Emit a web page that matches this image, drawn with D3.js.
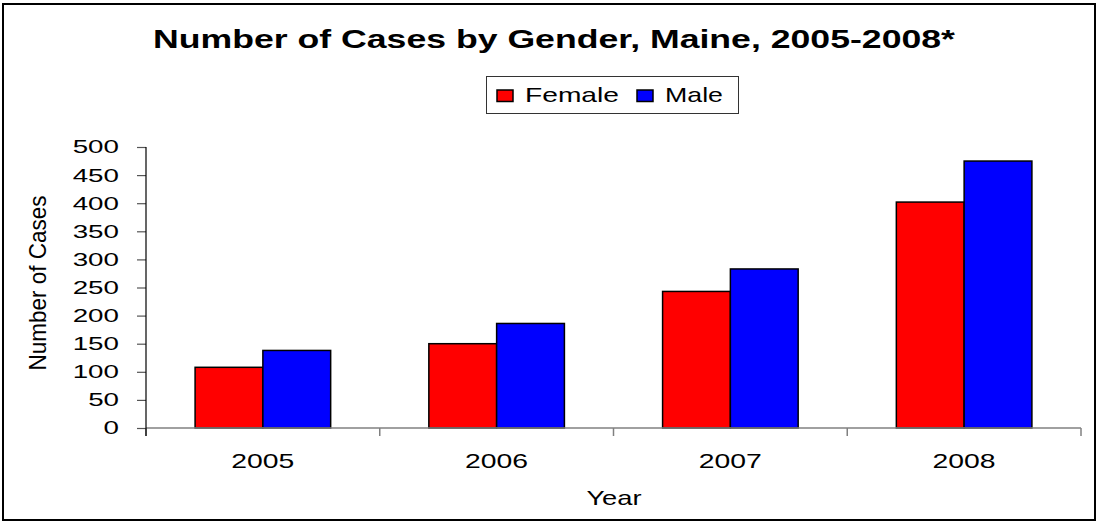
<!DOCTYPE html>
<html>
<head>
<meta charset="utf-8">
<script src="https://cdn.jsdelivr.net/npm/d3@7"></script>
<style>
  body { margin: 0; background: #fff; }
  svg { display: block; }
  text { font-family: Arial, "Liberation Sans", sans-serif; fill: #000; }
</style>
</head>
<body>
<div id="chart"></div>
<script>
"use strict";

// Chart data
const years = ["2005", "2006", "2007", "2008"];
const seriesNames = ["Female", "Male"];
const seriesColors = ["#ff0000", "#0000ff"];
const femaleCases = [108, 150, 243, 402];
const maleCases = [138, 186, 283, 475];
const yTicks = [0, 50, 100, 150, 200, 250, 300, 350, 400, 450, 500];

const width = 1098, height = 524;
const margin = { top: 147, right: 17, bottom: 96, left: 146 };
const xStretch = 1.4; // the reference text is stretched sideways

const svg = d3.select("#chart").append("svg")
    .attr("width", width)
    .attr("height", height);

// Stretch a text element sideways so it matches the reference
function Widen(sel, factor) {
    sel.each(function () {
        const w = this.getComputedTextLength();
        d3.select(this)
            .attr("textLength", w * factor)
            .attr("lengthAdjust", "spacingAndGlyphs");
    });
}

// Outer frame
svg.append("rect")
    .attr("x", 3).attr("y", 4)
    .attr("width", width - 6).attr("height", height - 8)
    .attr("fill", "none")
    .attr("stroke", "#000")
    .attr("stroke-width", 2);

// Title
svg.append("text")
    .attr("x", 554).attr("y", 48)
    .attr("text-anchor", "middle")
    .attr("font-size", 26)
    .attr("font-weight", "bold")
    .text("Number of Cases by Gender, Maine, 2005-2008*")
    .attr("textLength", 802)
    .attr("lengthAdjust", "spacingAndGlyphs");

// Scales
const x0 = d3.scaleBand()
    .domain(years)
    .range([margin.left, width - margin.right])
    .paddingInner(0.42)
    .paddingOuter(0.21);

const x1 = d3.scaleBand()
    .domain(seriesNames)
    .range([0, x0.bandwidth()]);

const y = d3.scaleLinear()
    .domain([0, 500])
    .range([height - margin.bottom, margin.top]);

const color = d3.scaleOrdinal().domain(seriesNames).range(seriesColors);

const rows = years.map((yr, i) => ({ year: yr, Female: femaleCases[i], Male: maleCases[i] }));

// Bars
svg.append("g")
    .selectAll("g")
    .data(rows)
    .join("g")
    .attr("transform", d => `translate(${x0(d.year)},0)`)
    .selectAll("rect")
    .data(d => seriesNames.map(k => ({ key: k, value: d[k] })))
    .join("rect")
    .attr("x", d => x1(d.key))
    .attr("y", d => y(d.value))
    .attr("width", x1.bandwidth())
    .attr("height", d => y(0) - y(d.value))
    .attr("fill", d => color(d.key))
    .attr("stroke", "#000")
    .attr("stroke-width", 1.5);

// X axis: ticks sit between the categories
const xEdges = years.map(yr => x0(yr) - x0.step() * x0.paddingOuter()).concat([width - margin.right]);
const xAxis = svg.append("g")
    .attr("transform", `translate(0,${y(0)})`);
xAxis.append("line")
    .attr("x1", margin.left).attr("x2", width - margin.right)
    .attr("stroke", "#808080").attr("stroke-width", 1.5);
xAxis.selectAll(".edge")
    .data(xEdges)
    .join("line")
    .attr("class", "edge")
    .attr("x1", d => d).attr("x2", d => d)
    .attr("y1", 0).attr("y2", 8)
    .attr("stroke", "#808080").attr("stroke-width", 1.5);
xAxis.selectAll(".lbl")
    .data(years)
    .join("text")
    .attr("class", "lbl")
    .attr("x", d => x0(d) + x0.bandwidth() / 2)
    .attr("y", 40)
    .attr("text-anchor", "middle")
    .attr("font-size", 21)
    .text(d => d)
    .call(Widen, 1.35);

// Y axis
svg.append("g")
    .attr("transform", `translate(${margin.left},0)`)
    .call(d3.axisLeft(y).tickValues(yTicks).tickSize(9).tickPadding(18).tickSizeOuter(0))
    .call(g => g.select(".domain").remove())
    .call(g => g.selectAll(".tick line").attr("stroke", "#555").attr("stroke-width", 1.2))
    .call(g => g.selectAll(".tick text")
        .attr("font-size", 18.5)
        .attr("font-family", "Arial, 'Liberation Sans', sans-serif")
        .attr("fill", "#000")
        .call(Widen, 1.5));

svg.append("line")
    .attr("x1", margin.left).attr("x2", margin.left)
    .attr("y1", y(500)).attr("y2", y(0) + 8)
    .attr("stroke", "#000").attr("stroke-width", 1.2);

// Axis titles
svg.append("text")
    .attr("x", 614).attr("y", 505)
    .attr("text-anchor", "middle")
    .attr("font-size", 21)
    .text("Year")
    .call(Widen, 1.3);

svg.append("text")
    .attr("transform", `translate(46,283) rotate(-90)`)
    .attr("text-anchor", "middle")
    .attr("font-size", 24)
    .text("Number of Cases")
    .attr("textLength", 175)
    .attr("lengthAdjust", "spacingAndGlyphs");

// Legend
const legend = svg.append("g");
legend.append("rect")
    .attr("x", 486.5).attr("y", 76.5)
    .attr("width", 252).attr("height", 37)
    .attr("fill", "#fff")
    .attr("stroke", "#333")
    .attr("stroke-width", 1);

const legendSwatchX = [497, 637];
const legendTextX = [525, 665];
const legendTextW = [94, 58];
seriesNames.forEach((name, i) => {
    legend.append("rect")
        .attr("x", legendSwatchX[i]).attr("y", 90)
        .attr("width", 16).attr("height", 11.5)
        .attr("fill", color(name))
        .attr("stroke", "#000")
        .attr("stroke-width", 1.5);
    legend.append("text")
        .attr("x", legendTextX[i]).attr("y", 101.7)
        .attr("font-size", 21)
        .text(name)
        .attr("textLength", legendTextW[i])
        .attr("lengthAdjust", "spacingAndGlyphs");
});
</script>
</body>
</html>
